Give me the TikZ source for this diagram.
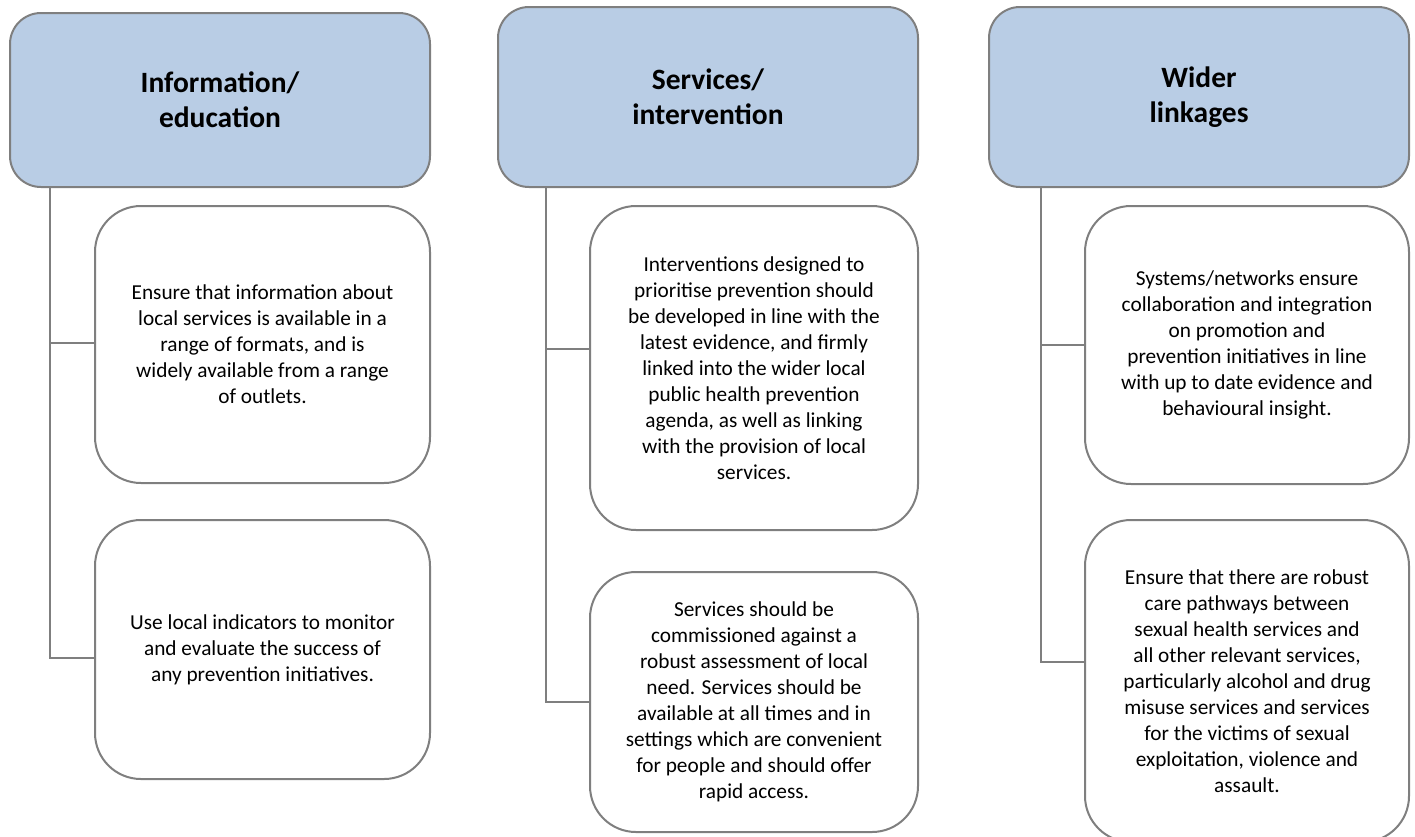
\documentclass[tikz,border=0pt]{standalone}
\usepackage{fontspec}
\setmainfont{Carlito}
\usetikzlibrary{positioning}
\definecolor{cHead}{HTML}{B9CDE5}
\definecolor{cLine}{HTML}{7F7F7F}

\begin{document}
\begin{tikzpicture}[
  x=1pt, y=-1pt,
  areabox/.style={
    draw=cLine, fill=cHead, line width=2pt, rounded corners=31pt,
    minimum width=420pt, minimum height=#1, inner sep=0pt,
    anchor=north west, align=center,
    font=\fontsize{29.5}{35}\selectfont\bfseries
  },
  pointbox/.style={
    draw=cLine, fill=white, line width=2pt, rounded corners=46pt,
    minimum height=#1, inner sep=0pt, align=center,
    font=\fontsize{21.3}{26}\selectfont
  },
  linkline/.style={draw=cLine, line width=2pt},
]
\useasboundingbox (0,0) rectangle (1415,836);

% Information/education
\node[areabox=174pt] (infohead) at (9,12) {Information/\\education};
\node[pointbox=277pt, minimum width=335pt,
      below left=17pt and 0pt of infohead.south east] (infoone) {%
  Ensure that information about\\
  local services is available in a\\
  range of formats, and is\\
  widely available from a range\\
  of outlets.};
\node[pointbox=259pt, minimum width=335pt,
      below=35pt of infoone] (infotwo) {%
  Use local indicators to monitor\\
  and evaluate the success of\\
  any prevention initiatives.};
\draw[linkline] ([xshift=41pt]infohead.south west) |- ([yshift=1.5pt]infoone.west);
\draw[linkline] ([xshift=41pt]infohead.south west) |- ([yshift=-8.5pt]infotwo.west);

% Services/intervention
\node[areabox=180pt] (servhead) at (497,6) {Services/\\intervention};
\node[pointbox=324pt, minimum width=328pt,
      below left=17pt and 0pt of servhead.south east] (servone) {%
  Interventions designed to\\
  prioritise prevention should\\
  be developed in line with the\\
  latest evidence, and firmly\\
  linked into the wider local\\
  public health prevention\\
  agenda, as well as linking\\
  with the provision of local\\
  services.};
\node[pointbox=260pt, minimum width=328pt,
      below=40pt of servone] (servtwo) {%
  Services should be\\
  commissioned against a\\
  robust assessment of local\\
  need. Services should be\\
  available at all times and in\\
  settings which are convenient\\
  for people and should offer\\
  rapid access.};
\draw[linkline] ([xshift=49pt]servhead.south west) |- ([yshift=19pt]servone.west);
\draw[linkline] ([xshift=49pt]servhead.south west) |- (servtwo.west);

% Wider linkages
\node[areabox=180pt] (widehead) at (988,6) {Wider\\linkages};
\node[pointbox=278pt, minimum width=324pt,
      below left=17pt and 0pt of widehead.south east] (wideone) {%
  Systems/networks ensure\\
  collaboration and integration\\
  on promotion and\\
  prevention initiatives in line\\
  with up to date evidence and\\
  behavioural insight.};
\node[pointbox=322pt, minimum width=324pt,
      below=34pt of wideone] (widetwo) {%
  Ensure that there are robust\\
  care pathways between\\
  sexual health services and\\
  all other relevant services,\\
  particularly alcohol and drug\\
  misuse services and services\\
  for the victims of sexual\\
  exploitation, violence and\\
  assault.};
\draw[linkline] ([xshift=53pt]widehead.south west) |- ([yshift=0pt]wideone.west);
\draw[linkline] ([xshift=53pt]widehead.south west) |- ([yshift=19pt]widetwo.west);

\end{tikzpicture}
\end{document}
